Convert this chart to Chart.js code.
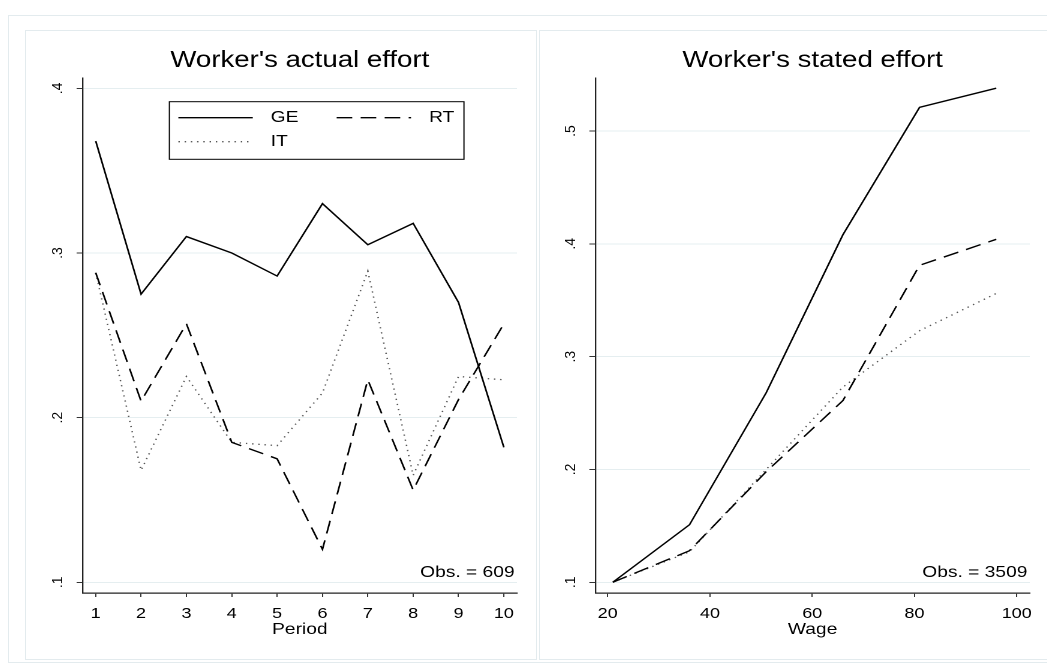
<!DOCTYPE html>
<html>
<head>
<meta charset="utf-8">
<script src="https://cdn.jsdelivr.net/npm/chart.js@4.4.1/dist/chart.umd.min.js"></script>
<style>
  html, body { margin: 0; padding: 0; background: #fff; overflow: hidden; width: 1047px; height: 664px; }
  .frame { position: absolute; border: 1px solid #e3ebee; box-sizing: border-box; }
  .panel { position: absolute; top: 30px; transform: scaleX(1.2); transform-origin: 0 0; }
  canvas { display: block; }
</style>
</head>
<body>
<div class="frame" style="left:8px;top:15px;width:1100px;height:648px"></div>
<div class="frame" style="left:25px;top:30px;width:512px;height:630px"></div>
<div class="frame" style="left:539px;top:30px;width:600px;height:630px"></div>
<div class="panel" style="left:25px"><canvas id="actual"></canvas></div>
<div class="panel" style="left:539px"><canvas id="stated"></canvas></div>

<script>
// ---- data ----
const seriesNames = ['GE', 'RT', 'IT'];

// Left panel: effort by period
const periods = [1, 2, 3, 4, 5, 6, 7, 8, 9, 10];
const actualGE = [0.368, 0.275, 0.310, 0.300, 0.286, 0.330, 0.305, 0.318, 0.270, 0.182];
const actualRT = [0.288, 0.210, 0.257, 0.185, 0.175, 0.120, 0.223, 0.156, 0.211, 0.257];
const actualIT = [0.288, 0.168, 0.225, 0.185, 0.183, 0.215, 0.289, 0.165, 0.225, 0.223];
const periodTicks = [1, 2, 3, 4, 5, 6, 7, 8, 9, 10];
const periodTickLabels = ['1', '2', '3', '4', '5', '6', '7', '8', '9', '10'];
const actualYTicks = [0.1, 0.2, 0.3, 0.4];
const actualYTickLabels = ['.1', '.2', '.3', '.4'];

// Right panel: effort by wage
const wages = [21, 36, 51, 66, 81, 96];
const statedGE = [0.100, 0.151, 0.268, 0.408, 0.521, 0.538];
const statedRT = [0.100, 0.128, 0.198, 0.261, 0.381, 0.404];
const statedIT = [0.100, 0.127, 0.200, 0.273, 0.323, 0.356];
const wageTicks = [20, 40, 60, 80, 100];
const wageTickLabels = ['20', '40', '60', '80', '100'];
const statedYTicks = [0.1, 0.2, 0.3, 0.4, 0.5];
const statedYTickLabels = ['.1', '.2', '.3', '.4', '.5'];

// ---- styling ----
const FONT = "'Liberation Sans', Arial, Helvetica, sans-serif";
const STRETCH = 1.2;   // panels are widened horizontally by CSS
const seriesStyle = {
  GE: { borderColor: '#000', borderWidth: 1.4, borderDash: [] },
  RT: { borderColor: '#000', borderWidth: 1.4, borderDash: [13, 7] },
  IT: { borderColor: '#555', borderWidth: 1.3, borderDash: [1.2, 4] }
};

// Rotated y tick labels, observation note and the boxed legend
const panelText = {
  id: 'panelText',
  afterDatasetsDraw(chart, args, o) {
    const { ctx, chartArea: a } = chart;
    const y = chart.scales.y;
    ctx.save();
    ctx.fillStyle = '#000';
    ctx.font = `14px ${FONT}`;
    ctx.textAlign = 'center';
    ctx.textBaseline = 'middle';
    y.ticks.forEach((t, i) => {
      ctx.save();
      ctx.translate(a.left - o.yLabelOffset, y.getPixelForValue(t.value));
      ctx.scale(1 / STRETCH, 1);
      ctx.rotate(-Math.PI / 2);
      ctx.fillText(o.yLabels[i], 0, 0);
      ctx.restore();
    });

    ctx.font = `16px ${FONT}`;
    ctx.textAlign = 'right';
    ctx.fillText(o.note, a.right - 2, a.bottom - 20.3);

    if (o.legend) {
      const bx = a.left + 72.3, by = a.top + 23.7, bw = 245.5, bh = 57.6;
      ctx.fillStyle = '#fff';
      ctx.fillRect(bx, by, bw, bh);
      ctx.strokeStyle = '#000';
      ctx.lineWidth = 1;
      ctx.setLineDash([]);
      ctx.strokeRect(bx, by, bw, bh);
      const slots = [{ x: 7.5, y: 16 }, { x: 139.4, y: 16 }, { x: 7.5, y: 40 }];
      chart.data.datasets.forEach((ds, i) => {
        const s = slots[i];
        ctx.save();
        ctx.strokeStyle = ds.borderColor;
        ctx.lineWidth = ds.borderWidth;
        ctx.setLineDash(ds.borderDash);
        ctx.beginPath();
        ctx.moveTo(bx + s.x, by + s.y);
        ctx.lineTo(bx + s.x + 62, by + s.y);
        ctx.stroke();
        ctx.restore();
        ctx.fillStyle = '#000';
        ctx.font = `16px ${FONT}`;
        ctx.textAlign = 'left';
        ctx.textBaseline = 'middle';
        ctx.fillText(ds.label, bx + s.x + 77, by + s.y);
      });
    }
    ctx.restore();
  }
};

function buildChart(id, opt) {
  const canvas = document.getElementById(id);
  canvas.width = opt.width;
  canvas.height = 629;
  const datasets = opt.series.map((vals, i) => Object.assign({
    label: seriesNames[i],
    data: opt.x.map((xv, j) => ({ x: xv, y: vals[j] })),
    pointRadius: 0,
    fill: false,
    tension: 0,
    borderCapStyle: 'butt',
    borderJoinStyle: 'miter'
  }, seriesStyle[seriesNames[i]]));

  return new Chart(canvas, {
    type: 'line',
    data: { datasets },
    options: {
      responsive: false,
      animation: false,
      devicePixelRatio: 2,
      layout: { padding: { top: 17, left: 0, right: 0, bottom: 0 } },
      plugins: {
        legend: { display: false },
        tooltip: { enabled: false },
        title: {
          display: true,
          text: opt.title,
          color: '#000',
          font: { family: FONT, size: 23, weight: 'normal' },
          padding: { top: 0, bottom: 3.4 }
        },
        panelText: {
          yLabels: opt.yTickLabels,
          yLabelOffset: 20,
          note: opt.note,
          legend: opt.legend
        }
      },
      scales: {
        x: {
          type: 'linear',
          bounds: 'data',
          min: opt.xMin,
          max: opt.xMax,
          afterBuildTicks: s => { s.ticks = opt.xTicks.map(v => ({ value: v })); },
          afterFit: s => { s.height = 66; },
          grid: { drawOnChartArea: false, color: '#333', tickLength: 4, lineWidth: 1 },
          border: { display: true, color: '#222', width: 1.2 },
          ticks: {
            color: '#000',
            font: { family: FONT, size: 15 },
            padding: 8,
            minRotation: 0,
            maxRotation: 0,
            autoSkip: false,
            callback: (v, i) => opt.xTickLabels[i]
          },
          title: {
            display: true,
            text: opt.xTitle,
            color: '#000',
            font: { family: FONT, size: 16 },
            padding: { top: 0, bottom: 20 }
          }
        },
        y: {
          type: 'linear',
          position: 'left',
          bounds: 'data',
          min: opt.yMin,
          max: opt.yMax,
          afterBuildTicks: s => { s.ticks = opt.yTicks.map(v => ({ value: v })); },
          afterFit: s => { s.width = opt.yWidth; },
          grid: { color: '#e5eef0', tickColor: '#333', tickLength: 5, lineWidth: 1 },
          border: { display: true, color: '#222', width: 1.2 },
          ticks: { display: false }
        },
        // empty right-hand margin box so the title stays centred over the plot region
        yMargin: {
          type: 'linear',
          position: 'right',
          min: 0,
          max: 1,
          afterFit: s => { s.width = opt.padRight; },
          grid: { display: false },
          border: { display: false },
          ticks: { display: false }
        }
      }
    },
    plugins: [panelText]
  });
}

buildChart('actual', {
  width: 458,
  padRight: 48,
  yWidth: 48,
  title: "Worker's actual effort",
  x: periods,
  series: [actualGE, actualRT, actualIT],
  xMin: 0.711, xMax: 10.29,
  xTicks: periodTicks,
  xTickLabels: periodTickLabels,
  xTitle: 'Period',
  yMin: 0.0935, yMax: 0.4063,
  yTicks: actualYTicks,
  yTickLabels: actualYTickLabels,
  note: 'Obs. = 609',
  legend: true
});

buildChart('stated', {
  width: 456,
  padRight: 47,
  yWidth: 47,
  title: "Worker's stated effort",
  x: wages,
  series: [statedGE, statedRT, statedIT],
  xMin: 17.6, xMax: 102.56,
  xTicks: wageTicks,
  xTickLabels: wageTickLabels,
  xTitle: 'Wage',
  yMin: 0.0905, yMax: 0.547,
  yTicks: statedYTicks,
  yTickLabels: statedYTickLabels,
  note: 'Obs. = 3509',
  legend: false
});
</script>
</body>
</html>
